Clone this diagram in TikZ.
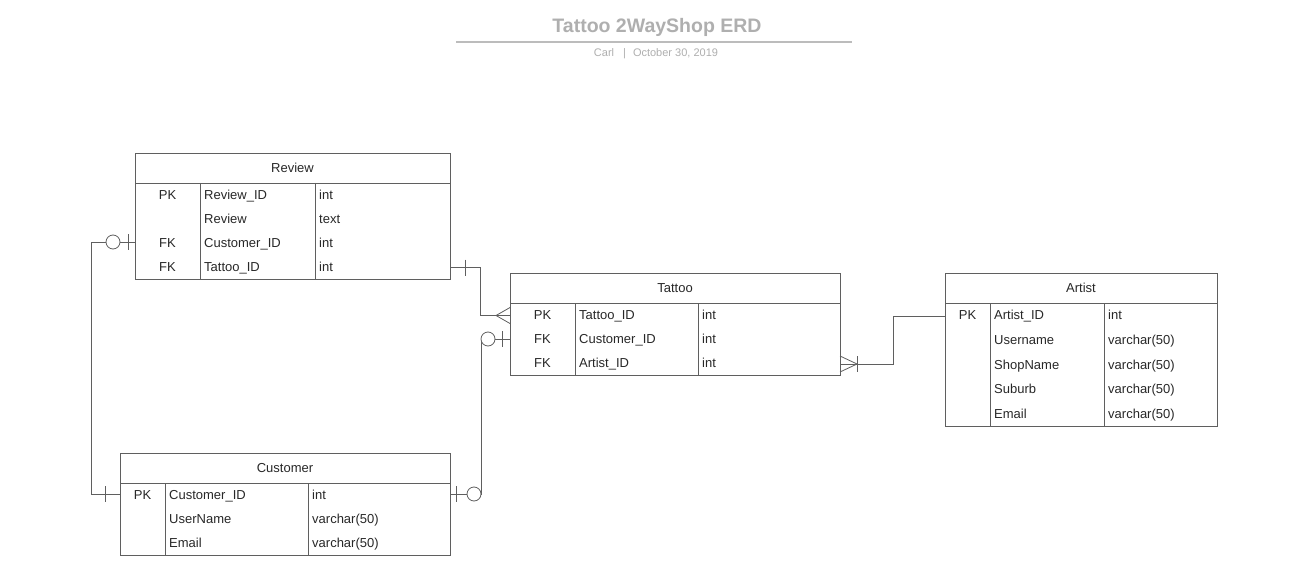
\documentclass[tikz,border=0pt]{standalone}
\usepackage{fontspec}
\setmainfont{Liberation Sans}
\usetikzlibrary{positioning}
\definecolor{erdline}{RGB}{95,95,95}
\definecolor{erdtext}{RGB}{40,40,40}
\definecolor{titlegray}{RGB}{175,175,175}
\definecolor{rulegray}{RGB}{188,188,188}
\tikzset{
  headbox/.style={
    draw=erdline,
    line width=0.8pt,
    fill=white,
    inner sep=0pt,
    outer sep=0pt,
    minimum height=30,
    anchor=north west,
    text=erdtext,
    text height=9.4pt,
    text depth=0pt,
    font=\fontsize{13}{15}\selectfont
  },
  bodybox/.style={draw=erdline, line width=0.8pt, fill=white, inner sep=0pt, outer sep=0pt},
  cell/.style={inner sep=0pt, anchor=west, text=erdtext, text height=11.4pt, text depth=0pt,
    font=\fontsize{13}{15}\selectfont},
  keycell/.style={cell, anchor=center},
  link/.style={draw=erdline, line width=0.8pt},
  bar/.style={draw=erdline, line width=0.8pt},
  ring/.style={draw=erdline, line width=0.8pt, fill=white}
}

\begin{document}
\begin{tikzpicture}[x=1pt, y=-1pt]
  \useasboundingbox[fill=white] (0,0) rectangle (1289,588);

  % title block
  \node[font=\bfseries\fontsize{19.5}{22}\selectfont, text=titlegray, inner sep=0pt,
    text height=14pt, text depth=0pt] (title) at (657,25.5) {Tattoo 2WayShop ERD};
  \draw[rulegray, line width=1.4pt] (456,42) -- (852,42);
  \node[font=\fontsize{11}{13}\selectfont, text=titlegray, inner sep=0pt,
    text height=8pt, text depth=0pt] (byline) at (656,53) {Carl\hspace{9pt}|\hspace{7pt}October 30, 2019};

  % Review
  \node[headbox, minimum width=315] (review) at (135,153) {Review};
  \node[bodybox, minimum width=315, minimum height=96, below=0pt of review] (review-body) {};
  \draw[link] ([xshift=65]review-body.north west) -- ([xshift=65]review-body.south west);
  \draw[link] ([xshift=180]review-body.north west) -- ([xshift=180]review-body.south west);
  \foreach \k/\f/\t [count=\i] in {PK/Review\_ID/int, /Review/text, FK/Customer\_ID/int, FK/Tattoo\_ID/int}{
    \node[keycell] (rv-k\i) at ([shift={(32.5,11+24*\i-24)}]review-body.north west) {\k};
    \node[cell] (rv-f\i) at ([shift={(69,11+24*\i-24)}]review-body.north west) {\f};
    \node[cell] (rv-t\i) at ([shift={(184,11+24*\i-24)}]review-body.north west) {\t};
  }

  % Tattoo
  \node[headbox, minimum width=330] (tattoo) at (510,273) {Tattoo};
  \node[bodybox, minimum width=330, minimum height=72, below=0pt of tattoo] (tattoo-body) {};
  \draw[link] ([xshift=65]tattoo-body.north west) -- ([xshift=65]tattoo-body.south west);
  \draw[link] ([xshift=188]tattoo-body.north west) -- ([xshift=188]tattoo-body.south west);
  \foreach \k/\f/\t [count=\i] in {PK/Tattoo\_ID/int, FK/Customer\_ID/int, FK/Artist\_ID/int}{
    \node[keycell] (tt-k\i) at ([shift={(32.5,11+24*\i-24)}]tattoo-body.north west) {\k};
    \node[cell] (tt-f\i) at ([shift={(69,11+24*\i-24)}]tattoo-body.north west) {\f};
    \node[cell] (tt-t\i) at ([shift={(192,11+24*\i-24)}]tattoo-body.north west) {\t};
  }

  % Artist
  \node[headbox, minimum width=272] (artist) at (945,273) {Artist};
  \node[bodybox, minimum width=272, minimum height=123, below=0pt of artist] (artist-body) {};
  \draw[link] ([xshift=45]artist-body.north west) -- ([xshift=45]artist-body.south west);
  \draw[link] ([xshift=159]artist-body.north west) -- ([xshift=159]artist-body.south west);
  \foreach \k/\f/\t [count=\i] in {PK/Artist\_ID/int, /Username/varchar(50), /ShopName/varchar(50),
      /Suburb/varchar(50), /Email/varchar(50)}{
    \node[keycell] (ar-k\i) at ([shift={(22.5,11+24.75*\i-24.75)}]artist-body.north west) {\k};
    \node[cell] (ar-f\i) at ([shift={(49,11+24.75*\i-24.75)}]artist-body.north west) {\f};
    \node[cell] (ar-t\i) at ([shift={(163,11+24.75*\i-24.75)}]artist-body.north west) {\t};
  }

  % Customer
  \node[headbox, minimum width=330] (customer) at (120,453) {Customer};
  \node[bodybox, minimum width=330, minimum height=72, below=0pt of customer] (customer-body) {};
  \draw[link] ([xshift=45]customer-body.north west) -- ([xshift=45]customer-body.south west);
  \draw[link] ([xshift=188]customer-body.north west) -- ([xshift=188]customer-body.south west);
  \foreach \k/\f/\t [count=\i] in {PK/Customer\_ID/int, /UserName/varchar(50), /Email/varchar(50)}{
    \node[keycell] (cu-k\i) at ([shift={(22.5,11+24*\i-24)}]customer-body.north west) {\k};
    \node[cell] (cu-f\i) at ([shift={(49,11+24*\i-24)}]customer-body.north west) {\f};
    \node[cell] (cu-t\i) at ([shift={(192,11+24*\i-24)}]customer-body.north west) {\t};
  }

  % relationship ends
  \coordinate (rv-cust) at (review-body.west |- rv-f3);
  \coordinate (cu-rv) at (customer-body.west |- cu-f1);
  \coordinate (rv-tat) at ([yshift=-1.5]review-body.east |- rv-f4);
  \coordinate (tt-rv) at ([yshift=-1.5]tattoo-body.west |- tt-f1);
  \coordinate (tt-cust) at ([yshift=-1]tattoo-body.west |- tt-f2);
  \coordinate (cu-tt) at (customer-body.east |- cu-f1);
  \coordinate (tt-art) at ([yshift=-2]tattoo-body.east |- tt-f3);
  \coordinate (ar-tt) at ([yshift=-2]artist-body.west |- ar-f1);

  \draw[link] (rv-cust) -- ++(-44,0) |- (cu-rv);
  \draw[link] (rv-tat) -- ++(30,0) |- (tt-rv);
  \draw[link] (tt-cust) -- ++(-29,0) |- (cu-tt);
  \draw[link] (tt-art) -- ++(53,0) |- (ar-tt);

  % Review -- Customer: zero or one / one
  \draw[bar] ([xshift=-7]rv-cust) ++(0,-8) -- ++(0,16);
  \draw[ring] ([xshift=-22]rv-cust) circle[radius=7];
  \draw[bar] ([xshift=-15]cu-rv) ++(0,-8) -- ++(0,16);

  % Review -- Tattoo: one / many
  \draw[bar] ([xshift=15]rv-tat) ++(0,-8) -- ++(0,16);
  \draw[bar] ([yshift=-8]tt-rv) -- ([xshift=-14]tt-rv) -- ([yshift=8]tt-rv);

  % Tattoo -- Customer: zero or one at both ends
  \draw[bar] ([xshift=-8]tt-cust) ++(0,-8) -- ++(0,16);
  \draw[ring] ([xshift=-22]tt-cust) circle[radius=7];
  \draw[bar] ([xshift=6]cu-tt) ++(0,-8) -- ++(0,16);
  \draw[ring] ([xshift=24]cu-tt) circle[radius=7];

  % Tattoo -- Artist: one or many
  \draw[bar] ([yshift=-8]tt-art) -- ([xshift=17]tt-art) -- ([yshift=8]tt-art);
  \draw[bar] ([xshift=17]tt-art) ++(0,-8) -- ++(0,16);
\end{tikzpicture}
\end{document}
